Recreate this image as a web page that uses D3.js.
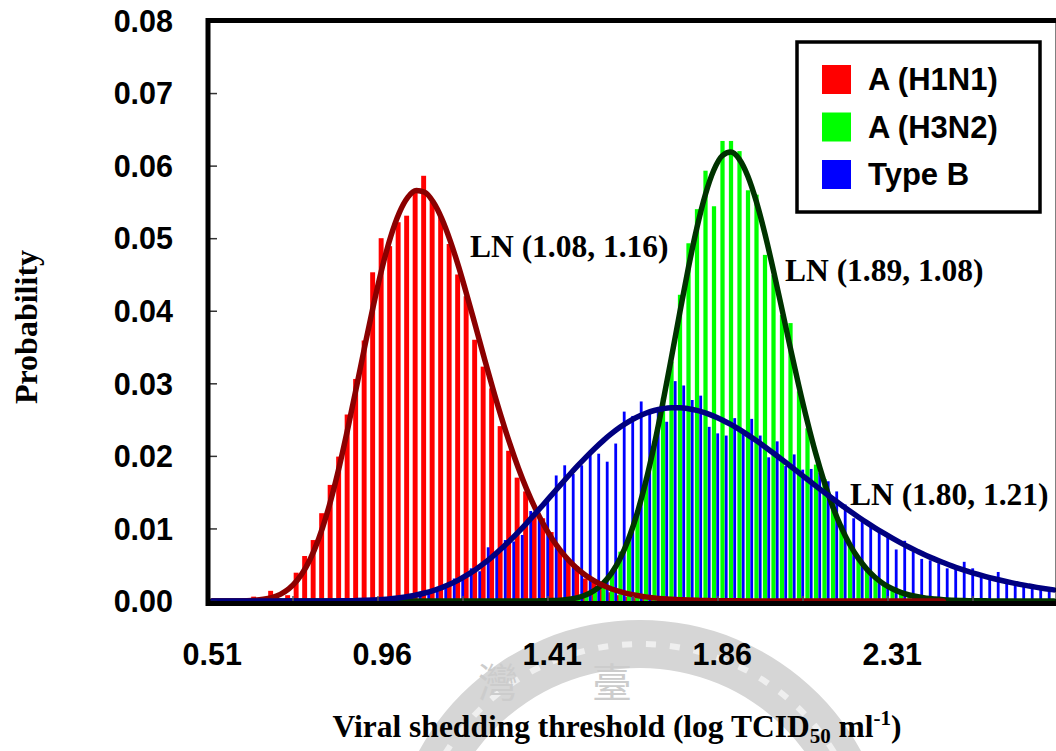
<!DOCTYPE html>
<html>
<head>
<meta charset="utf-8">
<script src="https://cdnjs.cloudflare.com/ajax/libs/d3/7.8.5/d3.min.js"></script>
<style>
  body { margin: 0; background: #fff; }
  svg { display: block; }
</style>
</head>
<body>
<div id="container"></div>
<script>
const width = 1056;
const height = 751;

// bin centres (log TCID50 ml-1)
const bins = [0.51,0.5325,0.555,0.5775,0.6,0.6225,0.645,0.6675,0.69,0.7125,
  0.735,0.7575,0.78,0.8025,0.825,0.8475,0.87,0.8925,0.915,0.9375,
  0.96,0.9825,1.005,1.0275,1.05,1.0725,1.095,1.1175,1.14,1.1625,
  1.185,1.2075,1.23,1.2525,1.275,1.2975,1.32,1.3425,1.365,1.3875,
  1.41,1.4325,1.455,1.4775,1.5,1.5225,1.545,1.5675,1.59,1.6125,
  1.635,1.6575,1.68,1.7025,1.725,1.7475,1.77,1.7925,1.815,1.8375,
  1.86,1.8825,1.905,1.9275,1.95,1.9725,1.995,2.0175,2.04,2.0625,
  2.085,2.1075,2.13,2.1525,2.175,2.1975,2.22,2.2425,2.265,2.2875,
  2.31,2.3325,2.355,2.3775,2.4,2.4225,2.445,2.4675,2.49,2.5125,
  2.535,2.5575,2.58,2.6025,2.625,2.6475,2.67,2.6925,2.715,2.7375];

const xTickLabels = ["0.51", "0.96", "1.41", "1.86", "2.31"];
const yTicks = [0, 0.01, 0.02, 0.03, 0.04, 0.05, 0.06, 0.07, 0.08];
const seriesNames = ["A (H1N1)", "A (H3N2)", "Type B"];
const fitLabels = ["LN (1.08, 1.16)", "LN (1.89, 1.08)", "LN (1.80, 1.21)"];

// histogram probabilities
const h1n1 = [0,0,0,0,0,0.0006,0.0002,0.0014,0.0004,0.0008,
  0.0039,0.0062,0.0084,0.0121,0.0160,0.0199,0.0257,0.0306,0.0359,0.0453,
  0.0500,0.0489,0.0522,0.0531,0.0567,0.0586,0.0550,0.0530,0.0492,0.0450,
  0.0420,0.0360,0.0323,0.0293,0.0241,0.0207,0.0170,0.0151,0.0121,0.0114,
  0.0095,0.0073,0.0057,0.0048,0.0031,0.0026,0.0020,0.0012,0.0008,0.0006,
  0.0004,0.0003,0.0002,0.0001,0.0001,0,0,0,0,0,
  0,0,0,0,0,0,0,0,0,0, 0,0,0,0,0,0,0,0,0,0,
  0,0,0,0,0,0,0,0,0,0, 0,0,0,0,0,0,0,0,0,0];

const h3n2 = [0,0,0,0,0,0,0,0,0,0, 0,0,0,0,0,0,0,0,0,0,
  0,0,0,0,0,0,0,0,0,0, 0,0,0,0,0,0,0,0,0,0,
  0,0,0,0.0003,0.0007,0.0012,0.0022,0.0038,0.0068,0.0090,
  0.0125,0.0170,0.0220,0.0280,0.0330,0.0422,0.0493,0.0540,0.0593,0.0544,
  0.0634,0.0634,0.0620,0.0566,0.0560,0.0477,0.0449,0.0394,0.0383,0.0289,
  0.0238,0.0188,0.0168,0.0140,0.0105,0.0078,0.0060,0.0045,0.0032,0.0025,
  0.0017,0.0012,0.0008,0.0006,0.0004,0.0003,0.0002,0.0001,0,0,
  0,0,0,0,0,0,0,0,0,0];

const typeB = [0,0,0,0,0,0,0,0,0,0, 0,0,0,0,0,0.0001,0.0001,0.0001,0.0001,0.0002,
  0.0002,0.0003,0.0005,0.0007,0.0009,0.0012,0.0013,0.0022,0.0031,0.0032,
  0.0045,0.0041,0.0074,0.0064,0.0084,0.0082,0.0091,0.0124,0.0117,0.0137,
  0.0173,0.0187,0.0175,0.0187,0.0201,0.0203,0.0192,0.0217,0.0261,0.0255,
  0.0275,0.0259,0.0264,0.0247,0.0303,0.0297,0.0277,0.0283,0.0240,0.0231,
  0.0228,0.0252,0.0235,0.0251,0.0228,0.0198,0.0220,0.0186,0.0202,0.0181,
  0.0182,0.0177,0.0165,0.0151,0.0133,0.0114,0.0110,0.0105,0.0094,0.0089,
  0.0071,0.0083,0.0068,0.0058,0.0056,0.0052,0.0045,0.0048,0.0054,0.0045,
  0.0036,0.0032,0.0040,0.0027,0.0025,0.0023,0.0021,0.0017,0.0016,0.0015];

// fitted lognormal curves, read at each bin
const h1n1Fit = [0,0,0,0.00001,0.00004,0.0001,0.00023,0.00047,0.00092,0.00167,
  0.00285,0.00459,0.00701,0.01018,0.01413,0.01880,0.02406,0.02968,0.03542,0.04095,
  0.04598,0.05024,0.05350,0.05563,0.05657,0.05633,0.05499,0.05271,0.04964,0.04601,
  0.04198,0.03775,0.03349,0.02933,0.02538,0.02171,0.01837,0.01539,0.01276,0.01049,
  0.00854,0.00690,0.00553,0.00440,0.00348,0.00273,0.00213,0.00165,0.00128,0.00098,
  0.00075,0.00057,0.00043,0.00032,0.00024,0.00018,0.00013,0.0001,0.00007,0.00005,
  0.00004,0.00003,0.00002,0.00001,0.00001,0,0,0,0,0,
  0,0,0,0,0,0,0,0,0,0, 0,0,0,0,0,0,0];

const h3n2Fit = [0,0,0,0,0,0,0,0,0,0, 0,0,0,0,0,0,0,0,0,0,
  0,0,0,0,0,0,0,0,0,0, 0,0,0,0,0,0,0,0,0,0.00003,
  0.00006,0.00012,0.00025,0.00047,0.00086,0.00148,0.00245,0.00388,0.00589,0.00861,
  0.01211,0.01643,0.02152,0.02726,0.03342,0.03972,0.04582,0.05134,0.05595,0.05936,
  0.06136,0.06187,0.06090,0.05857,0.05508,0.05069,0.04568,0.04035,0.03494,0.02970,
  0.02479,0.02032,0.01639,0.01300,0.01014,0.00779,0.00590,0.00440,0.00324,0.00235,
  0.00169,0.00119,0.00083,0.00058,0.00039,0.00027,0.00018,0.00012,0.00008,0.00005,
  0.00003,0.00002,0.00001,0,0,0,0,0,0,0];

const typeBFit = [0,0,0,0,0,0,0,0,0,0, 0,0,0,0,0,0.00002,0.00004,0.00006,0.00009,0.00014,
  0.00021,0.00031,0.00044,0.00061,0.00082,0.00110,0.00144,0.00185,0.00234,0.00292,
  0.00359,0.00435,0.00521,0.00616,0.00719,0.00831,0.00949,0.01074,0.01204,0.01336,
  0.01470,0.01604,0.01736,0.01864,0.01987,0.02103,0.02211,0.02309,0.02397,0.02472,
  0.02536,0.02587,0.02625,0.02650,0.02663,0.02663,0.02650,0.02626,0.02592,0.02548,
  0.02495,0.02433,0.02365,0.02290,0.02211,0.02127,0.02040,0.01951,0.01861,0.01769,
  0.01678,0.01587,0.01497,0.01409,0.01323,0.01239,0.01158,0.01080,0.01005,0.00934,
  0.00866,0.00801,0.00740,0.00683,0.00628,0.00577,0.00530,0.00485,0.00444,0.00406,
  0.00370,0.00337,0.00307,0.00279,0.00253,0.00229,0.00208,0.00188,0.00170,0.00153];

const plot = { left: 208, right: 1058, top: 20.5, bottom: 601 };
const sansFont = "'Liberation Sans', Arial, sans-serif";
const serifFont = "'Liberation Serif', 'Times New Roman', serif";

const svg = d3.select("#container")
              .append("svg")
              .attr("width", width)
              .attr("height", height);

// faint library seal behind the lower part of the figure
const seal = svg.append("g").attr("transform", "translate(640,872)");
seal.append("path")
    .attr("d", d3.arc().innerRadius(204).outerRadius(252).startAngle(-Math.PI).endAngle(Math.PI)())
    .attr("fill", "#d6d6d6");
seal.append("circle")
    .attr("r", 228)
    .attr("fill", "none")
    .attr("stroke", "#efefef")
    .attr("stroke-width", 6)
    .attr("stroke-dasharray", "10 14");
seal.selectAll("text")
    .data(["灣", "臺"])
    .enter()
    .append("text")
    .attr("x", (d, i) => -162 + i * 114)
    .attr("y", -175)
    .attr("font-family", "'Noto Sans CJK TC', sans-serif")
    .attr("font-size", 40)
    .attr("fill", "#cccccc")
    .text(d => d);

const x = d3.scaleBand()
            .domain(bins)
            .range([plot.left, plot.right])
            .padding(0);
const bw = x.bandwidth();
const y = d3.scaleLinear()
            .domain([0, 0.08])
            .range([plot.bottom, plot.top]);

svg.append("rect")
   .attr("x", plot.left).attr("y", plot.top)
   .attr("width", plot.right - plot.left).attr("height", 603.5 - plot.top)
   .attr("fill", "#fff");

// bars: offset and width as fraction of band
const barSpec = [
  { data: h1n1, color: "#ff0000", off: 0.08, w: 0.58 },
  { data: h3n2, color: "#00ff00", off: 0.28, w: 0.50 },
  { data: typeB, color: "#0000ff", off: 0.80, w: 0.33 }
];
barSpec.forEach((s) => {
  svg.append("g")
     .selectAll("rect")
     .data(s.data.map((v, i) => ({ bin: bins[i], v: v })).filter(d => d.v > 0))
     .enter()
     .append("rect")
     .attr("x", d => x(d.bin) + s.off * bw)
     .attr("width", s.w * bw)
     .attr("y", d => y(d.v))
     .attr("height", d => y(0) - y(d.v))
     .attr("fill", s.color);
});

// fitted curves
const line = d3.line()
               .x(d => x(d.bin) + bw / 2)
               .y(d => y(d.v))
               .curve(d3.curveMonotoneX);
const curveSpec = [
  { data: h3n2Fit, color: "#003300" },
  { data: h1n1Fit, color: "#8b0000" },
  { data: typeBFit, color: "#000080" }
];
curveSpec.forEach((s) => {
  svg.append("path")
     .datum(s.data.map((v, i) => ({ bin: bins[i], v: v })))
     .attr("d", line)
     .attr("fill", "none")
     .attr("stroke", s.color)
     .attr("stroke-width", 5.5)
     .attr("stroke-linejoin", "round")
     .attr("stroke-linecap", "round");
});

// x tick marks every 10 bins, inside the frame
svg.append("g")
   .selectAll("line")
   .data(bins.filter((d, i) => i > 0 && i % 10 === 0))
   .enter()
   .append("line")
   .attr("x1", d => x(d)).attr("x2", d => x(d))
   .attr("y1", 603).attr("y2", 596)
   .attr("stroke", "#555").attr("stroke-width", 1.5);

// y axis
const yAxis = d3.axisLeft(y)
                .tickValues(yTicks)
                .tickFormat(d3.format(".2f"))
                .tickSizeInner(-9)
                .tickSizeOuter(0)
                .tickPadding(35);
const yg = svg.append("g")
              .attr("transform", "translate(" + plot.left + ",0)")
              .call(yAxis);
yg.select(".domain").remove();
yg.selectAll("line").attr("stroke", "#333").attr("stroke-width", 1.5);
yg.selectAll("text")
  .attr("font-family", sansFont)
  .attr("font-weight", "bold")
  .attr("font-size", 30.5)
  .attr("fill", "#000")
  .attr("dy", "0.35em");

// x axis labels every 20 bins
const xAxis = d3.axisBottom(x)
                .tickValues(bins.filter((d, i) => i % 20 === 0))
                .tickFormat((d, i) => xTickLabels[i])
                .tickSize(0)
                .tickPadding(40);
const xg = svg.append("g")
              .attr("transform", "translate(0," + 603 + ")")
              .call(xAxis);
xg.select(".domain").remove();
xg.selectAll("text")
  .attr("font-family", sansFont)
  .attr("font-weight", "bold")
  .attr("font-size", 30.5)
  .attr("fill", "#000");

// frame
svg.append("rect")
   .attr("x", plot.left).attr("y", plot.top)
   .attr("width", plot.right - plot.left).attr("height", 603.5 - plot.top)
   .attr("fill", "none")
   .attr("stroke", "#000")
   .attr("stroke-width", 5);

// fit annotations
const fitPos = [[470, 257], [785, 281], [850, 505]];
svg.append("g")
   .selectAll("text")
   .data(fitLabels)
   .enter()
   .append("text")
   .attr("x", (d, i) => fitPos[i][0])
   .attr("y", (d, i) => fitPos[i][1])
   .attr("font-family", serifFont)
   .attr("font-weight", "bold")
   .attr("font-size", 31.5)
   .text(d => d);

// legend
const legend = svg.append("g").attr("transform", "translate(797,42)");
legend.append("rect")
      .attr("width", 243).attr("height", 170)
      .attr("fill", "#fff")
      .attr("stroke", "#000")
      .attr("stroke-width", 3.5);
const legendColors = ["#ff0000", "#00ff00", "#0000ff"];
const legendRow = legend.selectAll(".row")
                        .data(seriesNames)
                        .enter()
                        .append("g")
                        .attr("class", "row")
                        .attr("transform", (d, i) => "translate(25," + (23 + i * 47.5) + ")");
legendRow.append("rect")
         .attr("width", 29).attr("height", 29)
         .attr("fill", (d, i) => legendColors[i]);
legendRow.append("text")
         .attr("x", 46).attr("y", 25)
         .attr("font-family", sansFont)
         .attr("font-weight", "bold")
         .attr("font-size", 31)
         .text(d => d);

// axis titles
svg.append("text")
   .attr("transform", "translate(37,327) rotate(-90)")
   .attr("text-anchor", "middle")
   .attr("font-family", serifFont)
   .attr("font-weight", "bold")
   .attr("font-size", 32)
   .text("Probability");

const xTitle = svg.append("text")
                  .attr("x", 617).attr("y", 737)
                  .attr("text-anchor", "middle")
                  .attr("font-family", serifFont)
                  .attr("font-weight", "bold")
                  .attr("font-size", 31.5);
xTitle.append("tspan").text("Viral shedding threshold (log TCID");
xTitle.append("tspan").attr("font-size", 21).attr("dy", 6).text("50");
xTitle.append("tspan").attr("dy", -6).text(" ml");
xTitle.append("tspan").attr("font-size", 21).attr("dy", -12).text("-1");
xTitle.append("tspan").attr("dy", 12).text(")");
</script>
</body>
</html>
